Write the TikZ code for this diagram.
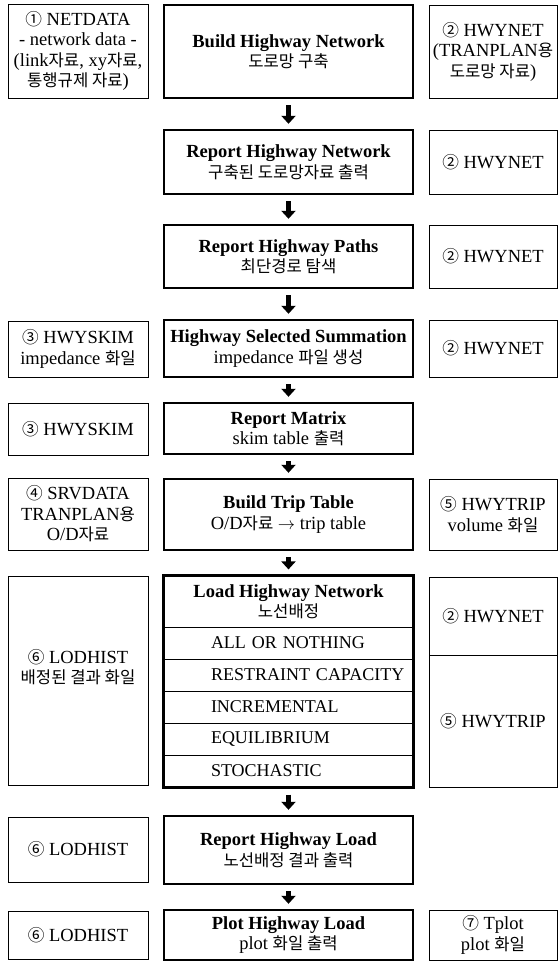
\documentclass[tikz,border=0pt]{standalone}
\usepackage{fontspec}
\setmainfont{Liberation Serif}
\newfontfamily\kr{Noto Sans CJK KR}[Scale=0.9]
\newcommand{\ko}[1]{{\kr #1}}
\usetikzlibrary{arrows.meta, fit}

\begin{document}
\begin{tikzpicture}[
    x=1pt, y=-1pt,
    box/.style={
        rectangle,
        draw=black,
        line width=2.4pt,
        minimum width=249pt,
        align=center,
        inner sep=2pt,
        font=\fontsize{18.5pt}{20.5pt}\selectfont
    },
    method/.style={
        rectangle,
        draw=black,
        line width=0.8pt,
        minimum height=32pt,
        text width=241pt,
        inner xsep=4pt,
        inner ysep=0pt,
        align=left,
        execute at begin node={\hspace*{43pt}},
        font=\fontsize{18pt}{20pt}\selectfont
    },
    side/.style={
        rectangle,
        draw=black,
        line width=0.8pt,
        align=center,
        inner sep=1pt,
        font=\fontsize{18.5pt}{20.5pt}\selectfont
    },
    lside/.style={side, minimum width=140pt},
    rside/.style={side, minimum width=128pt},
    flow/.style={
        -{Triangle[length=8pt, width=14pt]},
        line width=5pt,
        shorten <=6pt,
        shorten >=5pt
    }
]
\useasboundingbox (0,0) rectangle (558,966);

% main steps
\node[box, minimum height=93pt] (build)   at (288.5,51.5)  {\textbf{Build Highway Network}\\\ko{도로망 구축}};
\node[box, minimum height=64pt] (rptnet)  at (288.5,162)   {\textbf{Report Highway Network}\\\ko{구축된 도로망자료 출력}};
\node[box, minimum height=63pt] (paths)   at (288.5,256.5) {\textbf{Report Highway Paths}\\\ko{최단경로 탐색}};
\node[box, minimum height=57pt] (summ)    at (288.5,348.5) {\textbf{Highway Selected Summation}\\impedance \ko{파일 생성}};
\node[box, minimum height=51pt] (matrix)  at (288.5,428.5) {\textbf{Report Matrix}\\skim table \ko{출력}};
\node[box, minimum height=71pt] (trip)    at (288.5,514.5) {\textbf{Build Trip Table}\\O/D\ko{자료} $\rightarrow$ trip table};

% assignment block
\node[box, line width=0.8pt, minimum height=51pt] (load) at (288.5,601.5) {\textbf{Load Highway Network}\\\ko{노선배정}};
\node[method] (aon)    at (288.5,643) {ALL OR NOTHING};
\node[method] (rcap)   at (288.5,675) {RESTRAINT CAPACITY};
\node[method] (incr)   at (288.5,707) {INCREMENTAL};
\node[method] (equil)  at (288.5,739) {EQUILIBRIUM};
\node[method] (stoch)  at (288.5,771) {STOCHASTIC};
\node[draw, line width=2.4pt, inner sep=0pt, fit=(load)(stoch)] (loadgrp) {};

\node[box, minimum height=68pt] (rptload) at (288.5,850)   {\textbf{Report Highway Load}\\\ko{노선배정 결과 출력}};
\node[box, minimum height=50pt] (plot)    at (288.5,935)   {\textbf{Plot Highway Load}\\plot \ko{화일 출력}};

% input / output files, left
\node[lside, minimum height=94pt]  (netdata)  at (78,51)    {\ko{①} NETDATA\\- network data -\\(link\ko{자료}, xy\ko{자료},\\\ko{통행규제 자료})};
\node[lside, minimum height=56pt]  (skim1)    at (78,349)   {\ko{③} HWYSKIM\\impedance \ko{화일}};
\node[lside, minimum height=52pt]  (skim2)    at (78,429)   {\ko{③} HWYSKIM};
\node[lside, minimum height=72pt]  (srvdata)  at (78,514)   {\ko{④} SRVDATA\\TRANPLAN\ko{용}\\O/D\ko{자료}};
\node[lside, minimum height=209pt] (lodhist1) at (78,680.5) {\ko{⑥} LODHIST\\\ko{배정된 결과 화일}\\[8pt]};
\node[lside, minimum height=65pt]  (lodhist2) at (78,849.5) {\ko{⑥} LODHIST};
\node[lside, minimum height=48pt]  (lodhist3) at (78,935)   {\ko{⑥} LODHIST};

% input / output files, right
\node[rside, minimum height=93pt]  (hwynet1)  at (493,51.5)  {\ko{②} HWYNET\\(TRANPLAN\ko{용}\\\ko{도로망 자료})};
\node[rside, minimum height=64pt]  (hwynet2)  at (493,162)   {\ko{②} HWYNET};
\node[rside, minimum height=63pt]  (hwynet3)  at (493,256.5) {\ko{②} HWYNET};
\node[rside, minimum height=57pt]  (hwynet4)  at (493,348.5) {\ko{②} HWYNET};
\node[rside, minimum height=71pt]  (hwytrip1) at (493,514.5) {\ko{⑤} HWYTRIP\\volume \ko{화일}};
\node[rside, minimum height=78pt]  (hwynet5)  at (493,616)   {\ko{②} HWYNET};
\node[rside, minimum height=132pt] (hwytrip2) at (493,721)   {\ko{⑤} HWYTRIP};
\node[rside, minimum height=50pt]  (tplot)    at (493,935)   {\ko{⑦} Tplot\\plot \ko{화일}};

% flow
\draw[flow] (build)   -- (rptnet);
\draw[flow] (rptnet)  -- (paths);
\draw[flow] (paths)   -- (summ);
\draw[flow] (summ)    -- (matrix);
\draw[flow] (matrix)  -- (trip);
\draw[flow] (trip)    -- (loadgrp);
\draw[flow] (loadgrp) -- (rptload);
\draw[flow] (rptload) -- (plot);

\end{tikzpicture}
\end{document}
